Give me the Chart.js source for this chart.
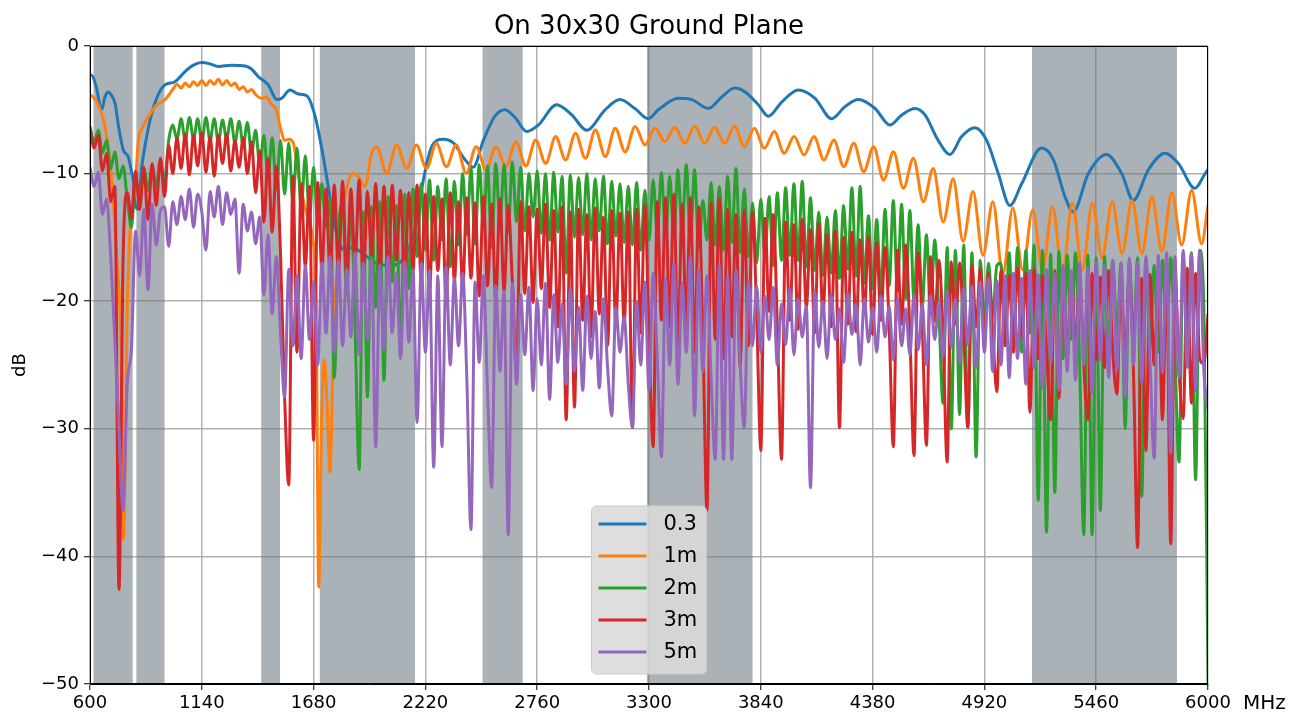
<!DOCTYPE html>
<html>
<head>
<meta charset="utf-8">
<title>On 30x30 Ground Plane</title>
<script src="https://cdn.jsdelivr.net/npm/chart.js@4.4.1/dist/chart.umd.min.js"></script>
<style>
  html, body { margin: 0; padding: 0; background: #fff; }
  #wrap { width: 1305px; height: 720px; }
</style>
</head>
<body>
<div id="wrap"><canvas id="chart" width="1305" height="720"></canvas></div>
<script>
const TITLE = 'On 30x30 Ground Plane';
const FONT = 'DejaVu Sans';

// axes
const X_MIN = 600, X_MAX = 6000, X_STEP = 540;
const Y_MIN = -50, Y_MAX = 0, Y_STEP = 10;

const seriesLabels = ['0.3', '1m', '2m', '3m', '5m'];
const seriesColors = ['#1f77b4', '#ff7f0e', '#2ca02c', '#d62728', '#9467bd'];

// shaded bands (MHz)
const bandStarts = [617, 824, 1427, 1710, 2496, 3290, 5150];
const bandEnds   = [806, 960, 1518, 2170, 2690, 3800, 5850];

// 0.3 : smooth curve, read point by point
const freq03 = [600, 608, 630, 656, 672, 688, 705, 721, 740, 761, 785, 800, 809, 820, 832, 850, 875, 898, 930, 962,
  1010, 1059, 1100, 1139, 1180, 1220, 1284, 1349, 1380, 1413, 1461, 1502, 1526, 1566, 1606, 1647, 1687, 1727, 1767, 1799,
  1830, 1870, 1920, 1980, 2050, 2120, 2175, 2210, 2250, 2306, 2355, 2411, 2451, 2500, 2556, 2604, 2653, 2709, 2765, 2854,
  2927, 2999, 3088, 3160, 3232, 3297, 3345, 3442, 3506, 3587, 3651, 3715, 3764, 3828, 3876, 3941, 4021, 4102, 4182, 4247,
  4311, 4392, 4464, 4521, 4585, 4633, 4697, 4754, 4810, 4874, 4931, 4987, 5043, 5100, 5196, 5253, 5309, 5349, 5422, 5510,
  5583, 5639, 5712, 5792, 5857, 5937, 5986, 6000];
const db03 = [-2.3, -2.3, -3.2, -5.0, -4.0, -3.6, -3.9, -4.5, -6.5, -8.15, -8.7, -9.8, -10.5, -12.5, -12.8, -9.5, -7.0, -5.3, -3.8, -3.05,
  -2.8, -2.0, -1.5, -1.3, -1.4, -1.6, -1.5, -1.57, -1.8, -2.4, -3.05, -4.2, -4.1, -3.45, -3.76, -3.9, -5.5, -8.7, -12.6, -15.2,
  -16.0, -15.8, -16.3, -17.0, -17.2, -16.5, -14.0, -10.5, -7.9, -7.3, -7.6, -8.9, -9.5, -7.4, -5.5, -5.0, -5.6, -6.7, -6.2, -4.6,
  -5.4, -6.6, -5.0, -4.2, -4.9, -5.7, -5.0, -4.1, -4.2, -4.9, -4.0, -3.3, -3.6, -4.6, -5.5, -4.4, -3.45, -4.1, -5.7, -4.75,
  -4.2, -4.9, -6.2, -5.4, -4.9, -5.4, -7.4, -8.5, -7.1, -6.4, -7.4, -10.0, -12.5, -10.8, -8.0, -8.9, -11.8, -13.0, -10.0, -8.5,
  -10.0, -12.1, -9.7, -8.4, -9.2, -11.15, -10.0, -9.7];

// 1m : irregular start, then a regular ripple read peak/trough by peak/trough
const freq1mHead = [600, 620, 640, 672, 705, 729, 745, 755, 760, 766, 778, 795, 817, 834, 857, 885, 914, 962,
  1000, 1020, 1040, 1060, 1080, 1100, 1120, 1140, 1160, 1180, 1200, 1220, 1240, 1260, 1280, 1300, 1320, 1340, 1360, 1380, 1400,
  1429, 1450, 1478, 1500, 1518, 1542, 1560, 1582, 1606, 1638, 1654, 1675, 1692, 1705, 1718, 1731, 1745, 1759, 1775, 1795,
  1830, 1870, 1900, 1928, 1960, 1985];
const db1mHead = [-3.8, -4.1, -4.6, -6.3, -10.5, -16.5, -20.9, -28, -38.7, -36.5, -22, -14, -11.3, -7.4, -6.3, -5.5, -4.75, -4.2,
  -3.4, -3.0, -3.3, -2.9, -3.2, -2.8, -3.1, -2.7, -3.1, -2.7, -3.0, -2.6, -3.05, -2.7, -3.1, -2.9, -3.4, -3.2, -3.6, -3.4, -3.8,
  -4.1, -4.0, -4.6, -5.0, -6.3, -7.4, -7.3, -7.6, -10.0, -12.6, -13.6, -15.0, -20.0, -42.4, -30.0, -24.6, -28.0, -33.4, -23.8, -17.0,
  -12.0, -10.0, -10.3, -11.0, -8.4, -7.9];
const OSC_1M_START = 2033, OSC_1M_STEP = 48;
const db1mOsc = [
  -9.98, -7.76, -9.6, -7.76, -9.6, -7.63, -9.46, -7.76, -9.98, -7.89, -9.7, -7.89, -9.46, -7.5, -9.4, -7.37, -9.2, -7.1, -8.93, -6.84,
  -8.8, -6.58, -8.67, -6.45, -8.3, -6.3, -7.76,
  -6.45, -7.5, -6.37, -7.63, -6.27, -7.63, -6.37, -7.63, -6.27, -7.89, -6.45, -8.02, -6.71, -8.4, -7.1, -8.54, -7.1, -8.93, -7.37, -9.46,
  -7.63, -9.85, -7.89, -10.5, -8.28, -11.15, -8.8, -12.2,
  -9.6, -13.8, -10.4, -15.3, -11.4, -16.4, -12.2, -17.9, -12.7, -17.55, -12.85, -17.55, -12.6, -17.8, -12.3, -17.55, -12.3, -16.6, -12.2, -16.25,
  -12.1, -16.25, -11.8, -16.1, -11.5, -15.6, -11.3, -15.5];
const freq1mTail = [6000];
const db1mTail = [-12.5];

// 2m, 3m, 5m : dense ripple, one value every 20 MHz from 600 MHz
const GRID_START = 600, GRID_STEP = 20;
const db2m = [
  -6.3, -7.6, -6.6, -8.4, -7.4, -9.6, -8.3, -10.4, -9.4, -12.0,
  -14.2, -10.5, -12.0, -9.6, -11.3, -9.4, -11.0, -9.0, -10.6, -7.4,
  -6.2, -7.3, -5.7, -7.4, -5.6, -7.3, -5.7, -7.5, -5.6, -7.4,
  -5.7, -7.5, -5.8, -7.3, -5.7, -7.6, -5.9, -7.8, -6.0, -8.4,
  -6.6, -9.4, -7.0, -10.3, -7.2, -11.2, -7.4, -11.6, -7.6, -12.2,
  -8.0, -12.8, -8.6, -13.4, -9.5, -13.8, -10.8, -14.2, -12.0, -26.0,
  -14.6, -12.4, -19.5, -12.8, -22.0, -33.2, -13.0, -27.5, -12.6, -20.5,
  -12.2, -26.2, -11.8, -18.5, -12.5, -23.8, -11.6, -19.0, -11.2, -16.5,
  -10.8, -16.0, -10.5, -16.8, -11.0, -15.2, -10.4, -17.3, -10.6, -15.6,
  -10.0, -14.8, -9.6, -15.5, -9.3, -14.2, -9.4, -15.8, -9.2, -13.9,
  -9.3, -14.6, -9.1, -13.8, -9.5, -14.5, -10.0, -13.4, -9.8, -14.7,
  -10.0, -15.2, -9.9, -14.6, -10.2, -17.8, -10.1, -15.0, -10.3, -14.8,
  -10.0, -15.2, -10.4, -14.5, -10.2, -15.5, -10.6, -14.9, -10.8, -15.4,
  -11.0, -15.6, -10.7, -16.0, -11.3, -15.2, -10.5, -14.8, -9.9, -15.0,
  -10.2, -15.0, -9.7, -14.6, -9.3, -15.3, -9.7, -15.8, -12.1, -15.2,
  -10.7, -15.6, -11.0, -16.0, -10.2, -15.4, -9.6, -16.2, -11.2, -16.5,
  -12.3, -17.0, -12.0, -16.5, -11.8, -17.2, -11.5, -16.8, -11.1, -16.4,
  -10.8, -16.8, -10.6, -17.3, -11.9, -17.6, -13.0, -18.0, -13.4, -17.8,
  -12.9, -18.2, -12.5, -17.5, -11.1, -18.0, -11.0, -18.6, -13.3, -19.0,
  -13.6, -19.5, -12.8, -18.8, -12.1, -19.2, -12.4, -19.8, -12.9, -20.0,
  -14.0, -20.4, -14.8, -21.0, -15.2, -20.8, -28.0, -15.8, -30.0, -16.0,
  -28.9, -15.6, -29.9, -16.2, -32.2, -16.8, -21.8, -17.0, -21.2, -17.2,
  -17.0, -22.0, -16.2, -23.5, -15.8, -24.0, -16.0, -22.5, -15.6, -35.6,
  -16.0, -38.1, -16.3, -35.0, -16.1, -24.5, -16.4, -23.0, -16.2, -25.0,
  -38.3, -16.4, -38.3, -16.6, -36.4, -16.5, -24.0, -16.8, -22.5, -17.0,
  -30.0, -16.8, -23.0, -16.6, -35.3, -16.9, -23.5, -17.2, -24.0, -16.8,
  -22.5, -16.6, -24.0, -32.6, -16.4, -23.0, -16.2, -34.0, -16.0, -20.5,
  -50.0];
const db3m = [
  -6.5, -8.0, -7.0, -9.8, -8.4, -12.2, -11.0, -42.6, -16.5, -11.5,
  -13.5, -9.8, -12.8, -9.5, -13.6, -9.2, -12.5, -8.8, -11.8, -7.8,
  -10.0, -7.2, -9.6, -6.9, -10.1, -7.0, -9.4, -6.8, -9.9, -7.1,
  -10.2, -7.0, -9.2, -6.9, -9.8, -7.4, -9.5, -7.2, -10.0, -7.5,
  -11.5, -8.2, -13.8, -8.8, -14.6, -9.4, -16.2, -27.5, -34.4, -10.2,
  -24.0, -10.8, -17.3, -11.0, -30.9, -10.7, -17.5, -11.2, -18.0, -10.9,
  -17.8, -10.6, -18.2, -11.2, -17.0, -10.5, -18.6, -11.4, -16.4, -10.8,
  -17.9, -11.0, -18.4, -10.9, -16.8, -11.3, -18.2, -11.5, -17.6, -10.9,
  -18.5, -11.6, -19.2, -11.8, -17.6, -12.0, -19.8, -11.5, -18.4, -12.2,
  -19.0, -11.9, -18.2, -12.3, -19.6, -11.8, -18.8, -12.4, -20.0, -12.0,
  -19.2, -12.5, -18.5, -25.5, -12.2, -19.4, -12.6, -20.1, -12.8, -19.0,
  -12.4, -20.5, -12.9, -22.0, -12.6, -29.3, -13.0, -28.3, -12.8, -21.5,
  -13.2, -22.8, -12.7, -21.0, -13.4, -23.5, -12.9, -22.0, -13.1, -21.8,
  -13.0, -29.9, -12.8, -22.5, -12.5, -23.0, -31.4, -12.2, -21.5, -11.9,
  -22.0, -11.6, -23.5, -12.4, -21.8, -11.9, -24.0, -12.6, -22.5, -36.4,
  -12.3, -23.0, -12.0, -24.5, -12.8, -22.8, -13.2, -25.2, -12.9, -23.5,
  -13.0, -21.0, -31.7, -13.5, -20.8, -13.2, -22.0, -32.4, -13.8, -21.5,
  -14.0, -22.2, -13.6, -20.5, -14.4, -22.5, -13.9, -21.2, -14.8, -22.0,
  -14.5, -29.9, -15.0, -21.8, -14.6, -22.4, -15.2, -21.0, -15.0, -22.6,
  -15.4, -21.5, -15.8, -22.0, -31.4, -16.0, -21.8, -15.6, -22.5, -32.1,
  -16.2, -22.0, -31.3, -16.5, -21.6, -16.8, -22.4, -32.6, -16.9, -21.8,
  -17.0, -22.5, -29.9, -17.2, -22.0, -17.5, -23.0, -17.8, -22.4, -27.1,
  -17.6, -23.5, -18.0, -24.0, -17.4, -22.8, -17.8, -28.7, -17.5, -24.5,
  -18.0, -23.8, -29.3, -17.6, -27.6, -18.2, -24.2, -17.9, -23.5, -18.3,
  -25.0, -29.3, -17.8, -24.6, -18.1, -25.2, -17.6, -24.0, -27.3, -18.0,
  -24.8, -17.7, -25.5, -39.3, -18.2, -31.7, -17.9, -25.0, -18.3, -29.3,
  -18.0, -39.0, -17.6, -25.5, -29.2, -17.4, -28.0, -17.8, -24.5, -24.9,
  -21.0];
const db5m = [
  -9.5, -11.0, -9.9, -13.2, -12.0, -16.5, -23.0, -30.0, -36.4, -26.4,
  -23.8, -14.5, -18.0, -12.8, -19.1, -12.4, -15.6, -12.9, -12.6, -15.7,
  -12.2, -14.0, -11.8, -13.6, -11.2, -14.2, -11.6, -13.0, -16.0, -11.4,
  -13.4, -11.0, -14.0, -11.5, -13.2, -12.0, -17.8, -12.4, -14.5, -13.0,
  -15.5, -13.4, -19.5, -14.8, -21.0, -16.5, -22.5, -27.5, -17.5, -23.5,
  -18.0, -24.5, -17.2, -23.0, -18.5, -25.0, -17.0, -22.5, -16.5, -24.0,
  -16.8, -23.5, -17.5, -22.8, -16.2, -24.2, -17.0, -23.0, -16.8, -31.4,
  -17.2, -23.8, -16.5, -22.5, -17.8, -24.5, -16.9, -23.2, -17.5, -29.5,
  -17.0, -24.0, -17.6, -33.0, -18.0, -31.4, -17.3, -25.0, -18.2, -23.5,
  -17.8, -26.0, -37.9, -18.5, -24.8, -18.0, -27.0, -34.6, -18.8, -25.5,
  -19.2, -38.3, -18.6, -26.5, -19.5, -24.2, -18.9, -27.0, -19.8, -25.0,
  -18.6, -27.7, -19.5, -24.8, -20.2, -26.5, -19.0, -25.5, -20.5, -27.0,
  -19.6, -24.5, -20.8, -26.8, -19.8, -25.2, -29.0, -20.5, -24.0, -21.2,
  -26.5, -29.9, -20.0, -25.0, -18.5, -27.0, -17.8, -24.5, -32.2, -18.2,
  -25.0, -17.0, -26.5, -18.6, -24.0, -16.5, -29.0, -17.5, -25.5, -18.0,
  -26.0, -32.4, -17.2, -32.4, -18.0, -32.4, -17.6, -24.8, -29.9, -18.4,
  -23.5, -18.8, -24.0, -19.6, -23.0, -18.9, -25.0, -20.2, -23.4, -19.0,
  -24.2, -19.8, -22.8, -20.4, -34.6, -19.2, -23.6, -20.0, -24.5, -19.5,
  -23.0, -20.6, -24.8, -19.4, -22.6, -20.2, -25.0, -19.8, -23.2, -20.5,
  -24.0, -19.6, -22.8, -20.4, -24.6, -19.8, -23.5, -20.6, -24.2, -19.5,
  -23.8, -20.2, -25.0, -19.6, -23.0, -20.0, -24.4, -19.2, -23.6, -19.8,
  -24.8, -19.0, -23.4, -18.8, -25.2, -18.5, -24.0, -18.2, -25.5, -18.4,
  -25.0, -18.0, -26.0, -17.8, -24.5, -18.2, -26.5, -17.6, -25.2, -17.9,
  -26.8, -17.5, -24.8, -17.8, -27.0, -17.2, -25.5, -17.6, -26.2, -17.0,
  -25.0, -17.4, -27.2, -16.9, -24.6, -17.2, -26.0, -16.8, -25.4, -17.0,
  -27.5, -16.6, -25.0, -16.9, -26.4, -16.5, -24.8, -32.3, -16.4, -25.6,
  -16.2, -31.9, -16.5, -26.0, -16.0, -25.2, -16.3, -27.0, -16.0, -25.5,
  -28.5];

function pairPoints(xs, ys) {
  return xs.map((x, i) => ({ x: x, y: ys[i] }));
}
function gridPoints(values, start, step) {
  return values.map((v, i) => ({ x: start + i * step, y: v }));
}

const seriesData = [
  pairPoints(freq03, db03),
  pairPoints(freq1mHead, db1mHead)
    .concat(gridPoints(db1mOsc, OSC_1M_START, OSC_1M_STEP))
    .concat(pairPoints(freq1mTail, db1mTail)),
  gridPoints(db2m, GRID_START, GRID_STEP),
  gridPoints(db3m, GRID_START, GRID_STEP),
  gridPoints(db5m, GRID_START, GRID_STEP)
];

// later series sit on top, like the original plot
const datasets = seriesData.map((data, i) => ({
  label: seriesLabels[i],
  data: data,
  borderColor: seriesColors[i],
  backgroundColor: seriesColors[i],
  borderWidth: 3,
  pointRadius: 0,
  fill: false,
  cubicInterpolationMode: 'monotone',
  order: seriesLabels.length - i
}));

// grey frequency bands behind the curves
const bandsPlugin = {
  id: 'bands',
  beforeDatasetsDraw(chart) {
    const { ctx, chartArea, scales } = chart;
    ctx.save();
    ctx.fillStyle = 'rgba(105,118,126,0.56)';
    bandStarts.forEach((lo, i) => {
      const x1 = scales.x.getPixelForValue(lo);
      const x2 = scales.x.getPixelForValue(bandEnds[i]);
      ctx.fillRect(x1, chartArea.top, x2 - x1, chartArea.bottom - chartArea.top);
    });
    ctx.restore();
  }
};

// frame, title, unit label and the legend box
const decorPlugin = {
  id: 'decor',
  afterDatasetsDraw(chart) {
    const { ctx, chartArea } = chart;
    const cx = (chartArea.left + chartArea.right) / 2;
    ctx.save();

    ctx.strokeStyle = '#000';
    ctx.lineWidth = 1;
    ctx.strokeRect(chartArea.left + 0.5, chartArea.top + 0.5,
      chartArea.right - chartArea.left - 1, chartArea.bottom - chartArea.top - 1);

    ctx.fillStyle = '#000';
    ctx.font = '26px "' + FONT + '"';
    ctx.textAlign = 'center';
    ctx.textBaseline = 'alphabetic';
    ctx.fillText(TITLE, cx, 34);

    ctx.font = '20px "' + FONT + '"';
    ctx.textAlign = 'left';
    ctx.textBaseline = 'middle';
    ctx.fillText('MHz', chartArea.right + 35, chartArea.bottom + 20);

    // legend, lower centre
    const w = 115, h = 168, rowH = 32;
    const lx = cx - w / 2, ly = chartArea.bottom - 10 - h;
    ctx.beginPath();
    ctx.roundRect(lx, ly, w, h, 5);
    ctx.fillStyle = 'rgba(218,218,218,0.88)';
    ctx.fill();
    ctx.strokeStyle = '#cccccc';
    ctx.lineWidth = 1;
    ctx.stroke();
    ctx.font = '21px "' + FONT + '"';
    seriesLabels.forEach((lab, i) => {
      const ry = ly + 18 + i * rowH;
      ctx.strokeStyle = seriesColors[i];
      ctx.lineWidth = 3;
      ctx.beginPath();
      ctx.moveTo(lx + 7, ry);
      ctx.lineTo(lx + 55, ry);
      ctx.stroke();
      ctx.fillStyle = '#000';
      ctx.fillText(lab, lx + 72, ry + 1);
    });
    ctx.restore();
  }
};

const tickFont = { family: FONT, size: 18 };

new Chart(document.getElementById('chart'), {
  type: 'line',
  data: { datasets: datasets },
  options: {
    responsive: false,
    devicePixelRatio: 1,
    animation: false,
    layout: { padding: { left: 0, right: 97, top: 46, bottom: 0 } },
    plugins: {
      legend: { display: false },
      title: { display: false },
      tooltip: { enabled: false }
    },
    scales: {
      x: {
        type: 'linear',
        min: X_MIN,
        max: X_MAX,
        ticks: {
          stepSize: X_STEP,
          autoSkip: false,
          maxRotation: 0,
          color: '#000',
          font: tickFont,
          padding: 3,
          callback: v => String(v)
        },
        grid: { color: '#b0b0b0', lineWidth: 1.5, tickColor: '#000', tickLength: 6, tickWidth: 1 },
        border: { display: true, color: '#000', width: 1 },
        afterFit: s => { s.height = 36; }
      },
      y: {
        type: 'linear',
        min: Y_MIN,
        max: Y_MAX,
        ticks: {
          stepSize: Y_STEP,
          color: '#000',
          font: tickFont,
          padding: 5,
          callback: v => (v < 0 ? '\u2212' + Math.abs(v) : String(v))
        },
        title: { display: true, text: 'dB', color: '#000', font: tickFont, padding: { top: 10, bottom: 0 } },
        grid: { color: '#b0b0b0', lineWidth: 1.5, tickColor: '#000', tickLength: 6, tickWidth: 1 },
        border: { display: true, color: '#000', width: 1 },
        afterFit: s => { s.width = 90; }
      }
    }
  },
  plugins: [bandsPlugin, decorPlugin]
});
</script>
</body>
</html>
